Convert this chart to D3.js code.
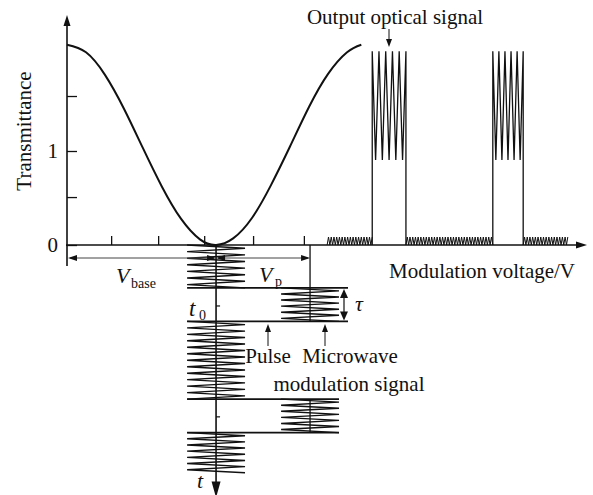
<!DOCTYPE html>
<html>
<head>
<meta charset="utf-8">
<script src="https://cdn.jsdelivr.net/npm/d3@7"></script>
<style>
body { margin: 0; background: #fff; }
svg { display: block; font-family: "Liberation Serif", "Times New Roman", serif; }
</style>
</head>
<body>
<svg width="593" height="495"></svg>
<script>
// transfer curve (modulation voltage, transmittance)
const curveV = [0, 0.4, 0.8, 1.2, 1.6, 2.0, 2.4, 2.8, 3.14, 3.5, 3.9, 4.3, 4.7, 5.1, 5.5, 5.9, 6.2]
const curveT = [2.13, 2.05, 1.81, 1.45, 1.03, 0.62, 0.28, 0.06, 0, 0.07, 0.29, 0.64, 1.05, 1.47, 1.82, 2.05, 2.13]

// axis ticks
const yTicks = [0, 0.51, 1, 1.585]
const yTickLabels = ["0", "", "1", ""]
const xTicks = [0.93, 1.92, 2.89, 3.92, 4.99]

// drive voltage along the time axis
const vBase = 3.14
const vBasePlusVp = 5.12
const mwAmp = 0.61
const mwPeriod = 0.19
const mwStart = [0, 2.28, 5.6]
const mwEnd = [1.28, 4.6, 6.8]
const pulseStart = [1.28, 4.6]
const pulseEnd = [2.28, 5.6]
const tTicks = [1.82, 5.13]
const tAxisEnd = 7.45

// output optical signal
const lowStart = [5.48, 7.14, 9.61]
const lowEnd = [6.43, 8.97, 10.55]
const lowTop = 0.085
const lowPeriod = 0.057
const highStart = [6.43, 8.97]
const highEnd = [7.14, 9.61]
const highTop = 2.06
const highBottom = 0.905
const highTeeth = [5, 5]

const svg = d3.select("svg")
const black = "#111"

const x = d3.scaleLinear().domain([0, 10.87]).range([67, 583])
const y = d3.scaleLinear().domain([0, 1]).range([245, 151])
const ty = d3.scaleLinear().domain([0, 1]).range([245, 278.5])

function arrowHead(tx, tyy, dir, len, half) {
    // dir: "up", "down", "left", "right"
    let p
    if (dir == "up") p = [[tx, tyy], [tx - half, tyy + len], [tx + half, tyy + len]]
    else if (dir == "down") p = [[tx, tyy], [tx - half, tyy - len], [tx + half, tyy - len]]
    else if (dir == "left") p = [[tx, tyy], [tx + len, tyy - half], [tx + len, tyy + half]]
    else p = [[tx, tyy], [tx - len, tyy - half], [tx - len, tyy + half]]
    svg.append("path").attr("d", "M" + p.join("L") + "Z").attr("fill", black)
}

function line(x1, y1, x2, y2, w, col) {
    svg.append("line")
        .attr("x1", x1).attr("y1", y1).attr("x2", x2).attr("y2", y2)
        .attr("stroke", col || black).attr("stroke-width", w || 1)
}

// Y axis
const yAxis = d3.axisLeft(y)
    .tickValues(yTicks)
    .tickSizeInner(-10)
    .tickSizeOuter(0)
    .tickPadding(9)
    .tickFormat((d, i) => yTickLabels[i])
const gy = svg.append("g").attr("transform", "translate(67,0)").call(yAxis)
gy.select(".domain").remove()
gy.selectAll("line").attr("stroke", black).attr("stroke-width", 1.3)
gy.selectAll("text").attr("font-size", 21).attr("font-family", "Liberation Serif").attr("fill", black)
line(67, 246, 67, 22, 1.6)
arrowHead(67, 15, "up", 11, 3.5)

// X axis
const xAxis = d3.axisBottom(x)
    .tickValues(xTicks)
    .tickSizeInner(-9)
    .tickSizeOuter(0)
    .tickFormat("")
const gx = svg.append("g").attr("transform", "translate(0,245)").call(xAxis)
gx.select(".domain").remove()
gx.selectAll("line").attr("stroke", black).attr("stroke-width", 1.3)
line(66, 245, 578, 245, 1.6)
arrowHead(587, 245, "right", 11, 3.5)

// transfer curve
const curvePts = curveV.map((v, i) => [x(v), y(curveT[i])])
svg.append("path")
    .attr("d", d3.line().curve(d3.curveNatural)(curvePts))
    .attr("fill", "none").attr("stroke", black).attr("stroke-width", 2)

// time axis
line(x(vBase), 245, x(vBase), ty(tAxisEnd) - 12, 1.6)
arrowHead(x(vBase), ty(tAxisEnd) + 3, "down", 16, 4.5)
tTicks.forEach(t => line(x(vBase), ty(t), x(vBase) + 4, ty(t), 1.2))

function zigzag(t0, t1, center, amp, period) {
    const n = Math.max(1, Math.round((t1 - t0) / (period / 2)))
    const pts = []
    for (let i = 0; i <= n; i++) {
        const t = t0 + i * (t1 - t0) / n
        const v = center + (i % 2 ? amp : -amp)
        pts.push([x(v), ty(t)])
    }
    return pts
}

mwStart.forEach((s, i) => {
    svg.append("path")
        .attr("d", d3.line()(zigzag(s, mwEnd[i], vBase, mwAmp, mwPeriod)))
        .attr("fill", "none").attr("stroke", black).attr("stroke-width", 1.4)
})

pulseStart.forEach((s, i) => {
    svg.append("path")
        .attr("d", d3.line()(zigzag(s, pulseEnd[i], vBasePlusVp, mwAmp, mwPeriod)))
        .attr("fill", "none").attr("stroke", black).attr("stroke-width", 1.4)
    const right = i == 0 ? 348 : x(vBasePlusVp + mwAmp)
    line(x(vBase - mwAmp), ty(s), right, ty(s), 1.6)
    line(x(vBase - mwAmp), ty(pulseEnd[i]), right, ty(pulseEnd[i]), 1.6)
    line(x(vBasePlusVp), i == 0 ? 245 : ty(s), x(vBasePlusVp), ty(pulseEnd[i]), 1.3)
})

// output optical signal
lowStart.forEach((s, i) => {
    const n = Math.round((lowEnd[i] - s) / (lowPeriod / 2))
    const pts = []
    for (let k = 0; k <= n; k++) {
        pts.push([x(s + k * (lowEnd[i] - s) / n), y(k % 2 ? lowTop : 0)])
    }
    svg.append("path").attr("d", d3.line()(pts))
        .attr("fill", "none").attr("stroke", black).attr("stroke-width", 1)
})
highStart.forEach((s, i) => {
    const n = highTeeth[i] * 2
    const pts = [[x(s), y(0)]]
    for (let k = 0; k <= n; k++) {
        pts.push([x(s + k * (highEnd[i] - s) / n), y(k % 2 ? highBottom : highTop)])
    }
    pts.push([x(highEnd[i]), y(0)])
    svg.append("path").attr("d", d3.line()(pts))
        .attr("fill", "none").attr("stroke", black).attr("stroke-width", 1.3)
})

// Vbase / Vp dimension arrows
line(67, 245, 67, 266, 1.6)
line(70, 258, x(vBase) - 2, 258, 1, "#444")
arrowHead(68, 258, "left", 9, 3)
arrowHead(x(vBase), 258, "right", 9, 3)
line(x(vBase) + 2, 258, x(vBasePlusVp) - 2, 258, 1, "#444")
arrowHead(x(vBase), 258, "left", 9, 3)
arrowHead(x(vBasePlusVp), 258, "right", 9, 3)

// tau arrow
line(344, ty(pulseStart[0]) + 6, 344, ty(pulseEnd[0]) - 6, 1.2)
arrowHead(344, ty(pulseStart[0]) + 1, "up", 9, 4)
arrowHead(344, ty(pulseEnd[0]) - 1, "down", 9, 4)

// pointer arrows
line(268, 346, 268, 330, 1)
arrowHead(268, 324, "up", 8, 3)
line(325, 346, 325, 330, 1)
arrowHead(325, 324, "up", 8, 3)
line(389, 29, 389, 41, 1)
arrowHead(389, 47, "down", 8, 3)

// labels
function label(tx, tyy, txt, size, opts) {
    const t = svg.append("text").attr("x", tx).attr("y", tyy)
        .attr("font-size", size).attr("fill", black).text(txt)
    if (opts && opts.italic) t.attr("font-style", "italic")
    if (opts && opts.anchor) t.attr("text-anchor", opts.anchor)
    return t
}

svg.append("text")
    .attr("transform", "translate(31,131) rotate(-90)")
    .attr("text-anchor", "middle")
    .attr("font-size", 21).attr("fill", black)
    .text("Transmittance")

label(395, 24, "Output optical signal", 21, {anchor: "middle"})
label(482, 278, "Modulation voltage/V", 21, {anchor: "middle"})
label(116, 283, "V", 22, {italic: true})
label(131, 288, "base", 14)
label(259, 282, "V", 22, {italic: true})
label(275, 286, "p", 14)
label(355, 311, "τ", 22, {italic: true})
label(189, 316, "t", 23, {italic: true})
label(199, 320, "0", 14)
label(197, 488, "t", 22, {italic: true})
label(268, 363, "Pulse", 21, {anchor: "middle"})
label(350, 363, "Microwave", 21, {anchor: "middle"})
label(349, 391, "modulation signal", 21, {anchor: "middle"})
</script>
</body>
</html>
